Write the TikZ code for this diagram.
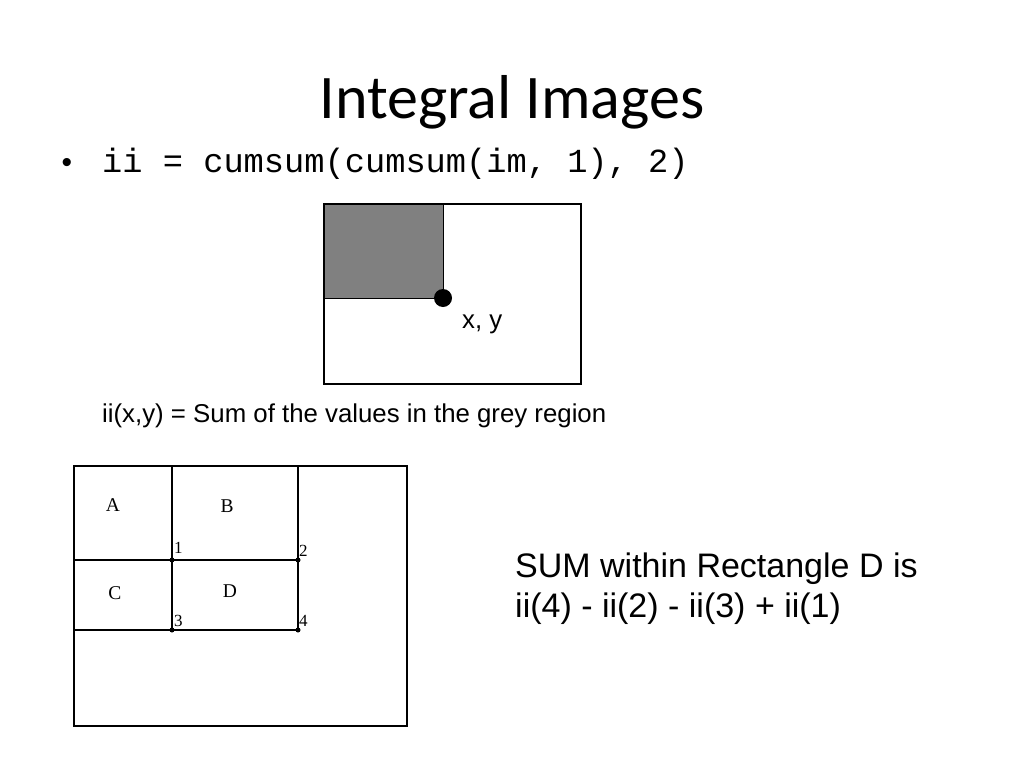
\documentclass[tikz,border=0pt]{standalone}
\usepackage{fontspec}
\setmainfont{Liberation Sans}
\newfontfamily\titlefont{Carlito}
\newfontfamily\codefont{Liberation Mono}
\newfontfamily\timesfont{Liberation Serif}
\begin{document}
\begin{tikzpicture}[x=1pt,y=-1pt,
  title/.style={font=\titlefont\fontsize{62}{70}\selectfont, anchor=base, inner sep=0},
  code/.style={font=\codefont\fontsize{33.7}{40}\selectfont, anchor=base west, inner sep=0},
  arial/.style={font=\fontsize{#1}{#1}\selectfont, anchor=base west, inner sep=0},
  lbl/.style={font=\timesfont\fontsize{19.5}{20}\selectfont, inner sep=0},
  num/.style={font=\timesfont\fontsize{17}{18}\selectfont, anchor=base west, inner sep=0},
  gridline/.style={line width=1.3pt},
  pt/.style={circle, fill=black, inner sep=0, minimum size=5pt}]
\useasboundingbox (0,0) rectangle (1024,768);
% title
\node[title] (title) at (512,118) {Integral Images};
\node[font=\fontsize{30}{30}\selectfont, anchor=base, inner sep=0] (bullet) at (67,172) {•};
\node[code] (code) at (102,172) {ii = cumsum(cumsum(im, 1), 2)};
% top figure
\fill[fill={rgb,255:red,128;green,128;blue,128}] (324,204) rectangle (443,298);
\draw[line width=0.8pt] (324,298) -- (443,298) -- (443,204);
\draw[line width=2.6pt] (324,204) rectangle (581,384);
\node[circle, fill=black, inner sep=0, minimum size=18pt] (xy) at (443,298) {};
\node[arial=25.8] (xylbl) at (462,328) {x, y};
\node[arial=25.8] (iilbl) at (102,422) {ii(x,y) = Sum of the values in the grey region};
% bottom figure
\draw[gridline] (74,466) rectangle (407,726);
\coordinate (t1) at (172,466);
\coordinate (t2) at (298,466);
\coordinate (l1) at (74,560);
\coordinate (l3) at (74,630);
\node[pt] (p1) at (172,560) {};
\node[pt] (p2) at (298,560) {};
\node[pt] (p3) at (172,630) {};
\node[pt] (p4) at (298,630) {};
\draw[gridline] (t1) -- (p1.center) -- (p3.center);
\draw[gridline] (t2) -- (p2.center) -- (p4.center);
\draw[gridline] (l1) -- (p1.center) -- (p2.center);
\draw[gridline] (l3) -- (p3.center) -- (p4.center);
\node[lbl] (A) at (113,505) {A};
\node[lbl] (B) at (227,506) {B};
\node[lbl] (C) at (115,593) {C};
\node[lbl] (D) at (230,591) {D};
\node[num] (n1) at (174,553) {1};
\node[num] (n2) at (299,556) {2};
\node[num] (n3) at (174,626) {3};
\node[num] (n4) at (299,626) {4};
% right text
\node[arial=34] (sum1) at (515,577) {SUM within Rectangle D is};
\node[arial=34] (sum2) at (515,617) {ii(4) - ii(2) - ii(3) + ii(1)};
\end{tikzpicture}
\end{document}
